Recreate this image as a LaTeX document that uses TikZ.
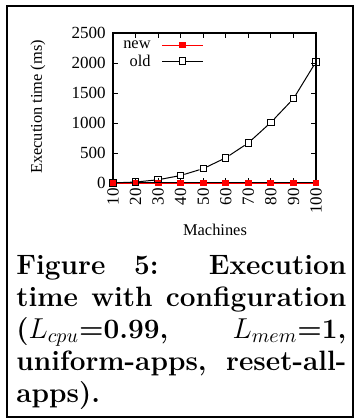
\documentclass[tikz,border=0pt]{standalone}
\usepackage{fontspec}
\newfontfamily\plotfont{Liberation Serif}
\usetikzlibrary{positioning}

\tikzset{
  ticklab/.style={font=\plotfont\fontsize{8.5}{10}\selectfont, inner sep=1pt},
  axlab/.style={font=\plotfont\fontsize{8.2}{10}\selectfont, inner sep=0pt},
  oldmark/.style={draw=black, line width=0.5pt, minimum size=3.2pt, inner sep=0pt},
  newmark/.style={fill=red, minimum size=3.4pt, inner sep=0pt},
  oldline/.style={black, line width=0.5pt},
  newline/.style={red, line width=0.5pt},
}

\begin{document}
\begin{tikzpicture}[x=0.5pt,y=-0.5pt]
\useasboundingbox (0,0) rectangle (355,419);
% outer frame
\draw[line width=1pt] (7,6) rectangle (353.5,417);

% axes box
\draw[line width=0.7pt] (113,33) rectangle (316,183);

% y ticks, mirrored on the right
\foreach \v [count=\i from 0] in {0,500,...,2500} {
  \pgfmathsetmacro\yy{183-30*\i}
  \draw (113,\yy) -- ++(5,0) (316,\yy) -- ++(-5,0);
  \node[ticklab, anchor=east] (yl\i) at (108,\yy) {\v};
}
% x ticks, mirrored on top
\foreach \m [count=\i from 0] in {10,20,...,100} {
  \pgfmathsetmacro\xx{113+203/9*\i}
  \draw (\xx,183) -- ++(0,-5) (\xx,33) -- ++(0,5);
  \node[ticklab, rotate=90, anchor=east] (xl\m) at (\xx,186) {\m};
}

\node[axlab, rotate=90] (ylab) at (38,107) {Execution time (ms)};
\node[axlab] (xlab) at (215,230) {Machines};

% data
\begin{scope}[shift={(90.44,183)}, x=1.1278pt, y=0.03pt]
  \foreach \m in {10,20,...,100}
    \node[newmark] (n\m) at (\m,0) {};
  \draw[newline] (n10.center) -- (n100.center);
  \foreach \m/\v in {10/2,20/16,30/54,40/125,50/240,60/420,70/668,80/1010,90/1405,100/2020}
    \node[oldmark] (o\m) at (\m,\v) {};
  \foreach \m [remember=\m as \p (initially 10)] in {20,30,...,100}
    \draw[oldline] (o\p) -- (o\m);
\end{scope}

% key
\node[axlab, anchor=east] (newlab) at (151,45) {new};
\coordinate (newa) at (162,45);
\coordinate (newb) at (203,45);
\draw[newline] (newa) -- (newb);
\node[newmark] (newkey) at (182.5,45) {};
\node[axlab, anchor=east] (oldlab) at (151,61) {old};
\coordinate (olda) at (162,61);
\coordinate (oldb) at (203,61);
\draw[oldline] (olda) -- (oldb);
\node[oldmark, fill=white] (oldkey) at (182.5,61) {};

% caption
\node[anchor=north west, inner sep=0pt, text width=165pt, align=justify,
      font=\fontsize{14}{16}\selectfont\bfseries] (caption) at (16,255)
  {\baselineskip=16pt Figure 5: Execution\linebreak time with configuration\linebreak
   ($L_{cpu}$=0.99, $L_{mem}$=1,\linebreak uniform-apps, reset-all-\linebreak apps).};
\end{tikzpicture}
\end{document}
